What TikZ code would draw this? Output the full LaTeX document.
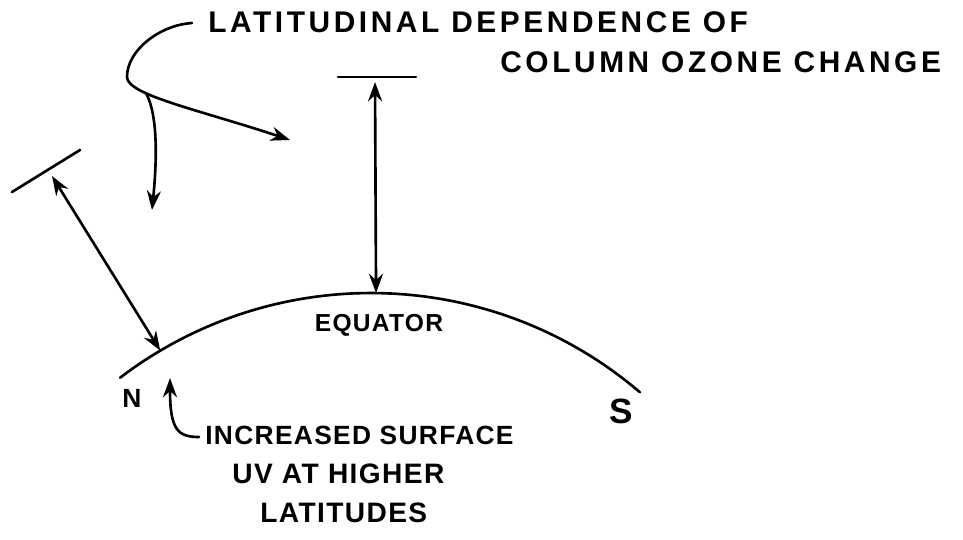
\documentclass[tikz,border=0pt]{standalone}
\usepackage{fontspec}
\setmainfont{Liberation Sans}
\newfontfamily\handfont[LetterSpace=12]{Liberation Sans Bold}
\newfontfamily\notefont[LetterSpace=5]{Liberation Sans Bold}
\usetikzlibrary{arrows.meta,calc}

\begin{document}
\begin{tikzpicture}[x=0.02cm, y=-0.02cm,
  ink/.style={line width=1.5pt, line cap=round},
  tip/.style={ink, -{Stealth[length=11pt,width=8pt]}},
  both/.style={ink, {Stealth[length=11pt,width=8pt]}-{Stealth[length=11pt,width=8pt]}},
  lbl/.style={font=\handfont\fontsize{17}{20}\selectfont, inner sep=0pt, anchor=west},
  note/.style={lbl, font=\notefont\fontsize{15}{18}\selectfont}]
  \useasboundingbox (0,0) rectangle (963,539);
  % earth surface
  \coordinate (ctr) at (371,707);
  \coordinate (sfN) at ($(ctr)+(-120.6:414)$);
  \coordinate (sfEq) at ($(ctr)+(-89.3:414)$);
  \draw[ink] (ctr) ++(-127.3:414) arc[start angle=-127.3, end angle=-49.5, radius=414];
  % column tops
  \coordinate (barL1) at (12,192);
  \coordinate (barL2) at (80,150);
  \coordinate (barT1) at (338,77);
  \coordinate (barT2) at (416,77);
  \coordinate (colL) at (52,176);
  \coordinate (colT) at (375,82);
  \draw[ink] (barL1) -- (barL2);
  \draw[ink] (barT1) -- (barT2);
  \draw[both] (colL) -- (sfN);
  \draw[both] (colT) -- (sfEq);
  % labels
  \node[lbl] (ttl1) at (208,22) {LATITUDINAL DEPENDENCE OF};
  \node[lbl] (ttl2) at (500,62) {COLUMN OZONE CHANGE};
  \node[note, anchor=center, font=\notefont\fontsize{14}{16}\selectfont] (eq) at (379,325) {EQUATOR};
  \node[note, anchor=center, font=\notefont\fontsize{15}{17}\selectfont] (north) at (132,398) {N};
  \node[note, anchor=center, font=\notefont\fontsize{20}{22}\selectfont] (south) at (621,411) {S};
  \node[note] (uv1) at (205,435) {INCREASED SURFACE};
  \node[note, font=\notefont\fontsize{16}{19}\selectfont] (uv2) at (232,474) {UV AT HIGHER};
  \node[note, font=\notefont\fontsize{16}{19}\selectfont] (uv3) at (260,513) {LATITUDES};
  % pointers
  \coordinate (fork) at (146,93);
  \coordinate (tipR) at (290,140);
  \coordinate (tipD) at (152,210);
  \coordinate (tipN) at (170,378);
  \draw[tip] ($(ttl1.west)+(-16,1)$) .. controls (160,25) and (127,50) .. (127,77)
    .. controls (127,95) and (200,110) .. (tipR);
  \draw[tip] (fork) .. controls (158,115) and (157,160) .. (tipD);
  \draw[tip] ($(uv1.west)+(-6,2)$) .. controls (178,437) and (170,430) .. (tipN);
\end{tikzpicture}
\end{document}
